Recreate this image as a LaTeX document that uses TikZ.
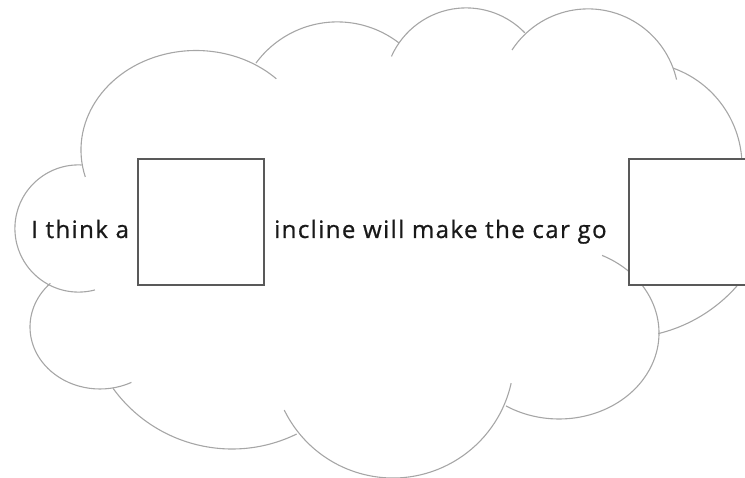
\documentclass[tikz,border=0pt]{standalone}
\usepackage{fontspec}
\newfontfamily\cloudfont[LetterSpace=6,FakeBold=0.8]{Open Sans}
\tikzset{cloudline/.style={draw=black!35,line width=1.1pt}}
\tikzset{blank/.style={draw=black!65,line width=1.8pt,fill=white,minimum size=126pt,inner sep=0pt}}
\tikzset{words/.style={font=\cloudfont\fontsize{24}{28}\selectfont,text=black!90,inner sep=0pt,anchor=base west}}

\begin{document}
\begin{tikzpicture}[x=1pt,y=-1pt]
\useasboundingbox (0,0) rectangle (745,478);

% the cloud, one arc for each bump
\foreach \cx/\cy/\rx/\ry/\a/\b in {78.5/228.5/63.6/63.6/-87.2/-285,
    196/150/115/99.5/164.3/314.3, 337.3/122.8/100.9/100.9/216.3/307.7,
    466.1/89.6/81.7/81.7/204/316, 588/99.7/90.8/90.8/213.2/347.2,
    638/166/104/104/289.7/370, 622/185/153/153/30/76.3,
    559/333/100/86/-64.5/122, 393/357/121/121/12.5/154,
    232/302/147/147/144/63.9, 100/327/70/62/224.8/63.3}
  \draw[cloudline] (\cx,\cy) ++({\rx*cos(\a)},{\ry*sin(\a)})
    arc[start angle=\a,end angle=\b,x radius=\rx,y radius=\ry];

% the two empty boxes
\node[blank] (gap1) at (201,222) {};
\node[blank] (gap2) at (692,222) {};

\node[words] (think) at (31,238) {I think a};
\node[words] (incline) at (274,238) {incline will make the car go};

\end{tikzpicture}
\end{document}
